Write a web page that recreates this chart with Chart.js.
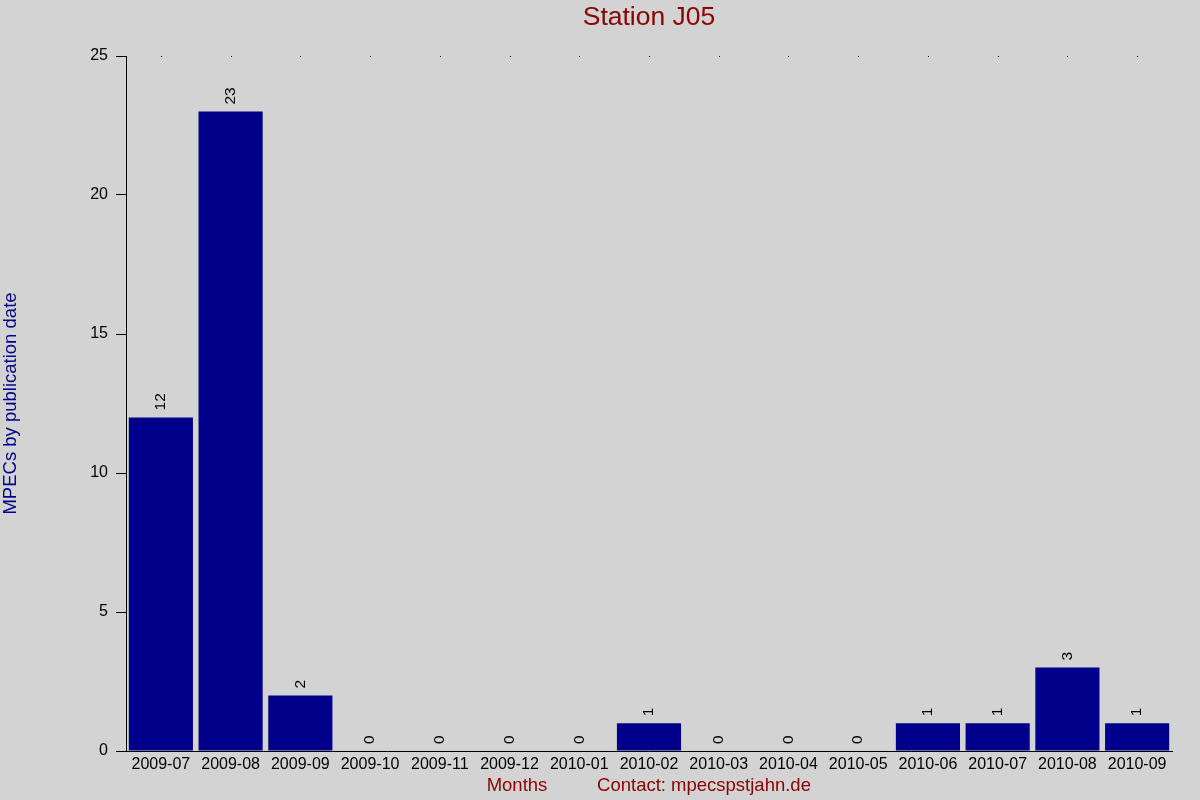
<!DOCTYPE html>
<html>
<head>
<meta charset="utf-8">
<script src="https://cdn.jsdelivr.net/npm/chart.js@4/dist/chart.umd.min.js"></script>
<style>
  html, body { margin: 0; padding: 0; background: #d3d3d3; }
  canvas { display: block; }
</style>
</head>
<body>
<canvas id="mpecChart" width="1200" height="800"></canvas>
<script>
const months = ["2009-07", "2009-08", "2009-09", "2009-10", "2009-11", "2009-12", "2010-01",
  "2010-02", "2010-03", "2010-04", "2010-05", "2010-06", "2010-07", "2010-08", "2010-09"];
const mpecCounts = [12, 23, 2, 0, 0, 0, 0, 1, 0, 0, 0, 1, 1, 3, 1];
const yTicks = [0, 5, 10, 15, 20, 25];

const chartTitle = "Station J05";
const yTitle = "MPECs by publication date";
const xTitle = "Months";
const contactText = "Contact: mpecspstjahn.de";

const FONT = "'Liberation Sans', Arial, sans-serif";

// titles, value labels and the little dots along the top
const decorations = {
  id: "decorations",
  beforeDraw(chart) {
    const ctx = chart.ctx;
    ctx.save();
    ctx.fillStyle = "#d3d3d3";
    ctx.fillRect(0, 0, chart.width, chart.height);
    ctx.restore();
  },
  afterDraw(chart) {
    const ctx = chart.ctx;
    const area = chart.chartArea;
    const xScale = chart.scales.x;
    const cx = (area.left + area.right) / 2;
    ctx.save();

    // title
    ctx.fillStyle = "#8b0000";
    ctx.font = "26.5px " + FONT;
    ctx.textAlign = "center";
    ctx.textBaseline = "middle";
    ctx.fillText(chartTitle, cx, 18);

    // x axis texts
    ctx.font = "18.5px " + FONT;
    ctx.fillText(xTitle, 517, 786);
    ctx.fillText(contactText, 704, 786);

    // y axis title
    ctx.save();
    ctx.translate(11, (area.top + area.bottom) / 2);
    ctx.rotate(-Math.PI / 2);
    ctx.fillStyle = "#00008b";
    ctx.fillText(yTitle, 0, 0);
    ctx.restore();

    // dots at top of plot
    ctx.fillStyle = "#000";
    months.forEach((m, i) => {
      const x = Math.round(xScale.getPixelForValue(i));
      ctx.fillRect(x, Math.round(area.top), 1, 1);
    });

    // value labels, rotated
    ctx.font = "15.5px " + FONT;
    ctx.textAlign = "left";
    ctx.textBaseline = "middle";
    const meta = chart.getDatasetMeta(0);
    meta.data.forEach((bar, i) => {
      ctx.save();
      ctx.translate(bar.x, bar.y - 7);
      ctx.rotate(-Math.PI / 2);
      ctx.fillText(String(mpecCounts[i]), 0, 0);
      ctx.restore();
    });

    ctx.restore();
  }
};

new Chart(document.getElementById("mpecChart").getContext("2d"), {
  type: "bar",
  data: {
    labels: months,
    datasets: [{
      data: mpecCounts,
      backgroundColor: "#00008b",
      borderWidth: 0,
      barPercentage: 0.92,
      categoryPercentage: 1.0
    }]
  },
  options: {
    responsive: false,
    animation: false,
    devicePixelRatio: 1,
    layout: { padding: { left: 0, top: 56, right: 28, bottom: 0 } },
    plugins: {
      legend: { display: false },
      tooltip: { enabled: false },
      title: { display: false }
    },
    scales: {
      x: {
        offset: true,
        grid: { display: false, drawTicks: false },
        border: { color: "#000", width: 1 },
        ticks: {
          color: "#000",
          font: { family: FONT, size: 16 },
          padding: 4,
          maxRotation: 0,
          autoSkip: false
        },
        afterFit(scale) { scale.height = 49; }
      },
      y: {
        min: 0,
        max: 25,
        afterBuildTicks(scale) { scale.ticks = yTicks.map(v => ({ value: v })); },
        grid: { drawOnChartArea: false, drawTicks: true, tickLength: 10, color: "#000" },
        border: { color: "#000", width: 1 },
        ticks: {
          color: "#000",
          font: { family: FONT, size: 16 },
          padding: 8
        },
        afterFit(scale) { scale.width = 126; }
      }
    }
  },
  plugins: [decorations]
});
</script>
</body>
</html>
